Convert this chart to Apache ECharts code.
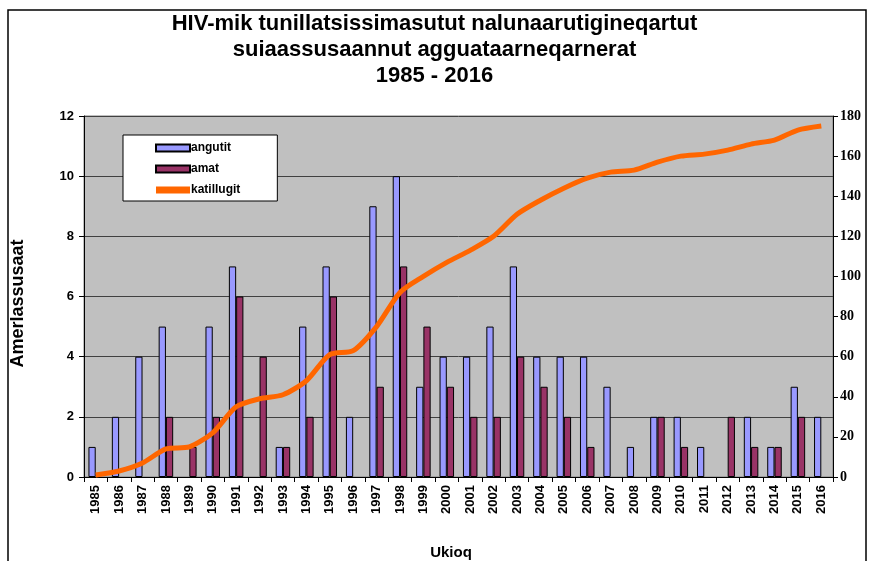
<!DOCTYPE html>
<html>
<head>
<meta charset="utf-8">
<script src="https://cdn.jsdelivr.net/npm/echarts@6/dist/echarts.min.js"></script>
<style>
  html, body { margin: 0; padding: 0; background: #fff; }
  #main { width: 869px; height: 561px; }
</style>
</head>
<body>
<div id="main"></div>
<script>
// ukiut
var years = ['1985','1986','1987','1988','1989','1990','1991','1992','1993','1994','1995','1996',
  '1997','1998','1999','2000','2001','2002','2003','2004','2005','2006','2007','2008',
  '2009','2010','2011','2012','2013','2014','2015','2016'];
var angutit = [1,2,4,5,0,5,7,0,1,5,7,2,9,10,3,4,4,5,7,4,4,4,3,1,2,2,1,0,2,1,3,2];
var amat    = [0,0,0,2,1,2,6,4,1,2,6,0,3,7,5,3,2,2,4,3,2,1,0,0,2,1,0,2,1,1,2,0];
var katillugit = [1,3,7,14,15,22,35,39,41,48,61,63,75,92,100,107,113,120,131,138,144,149,
  152,153,157,160,161,163,166,168,173,175];
var leftTicks = [0, 12, 2];    // min, max, interval
var rightTicks = [0, 180, 20];

var chart = echarts.init(document.getElementById('main'));
var sans = 'Arial, "Liberation Sans", sans-serif';

// 0 -> no bar drawn (otherwise the border leaves a flat line)
function noZero(arr) {
  return arr.map(function (v) { return v === 0 ? '-' : v; });
}

var option = {
  animation: false,
  backgroundColor: '#fff',
  title: {
    text: 'HIV-mik tunillatsissimasutut nalunaarutigineqartut\nsuiaassusaannut agguataarneqarnerat\n1985 - 2016',
    left: 'center',
    top: 6,
    textStyle: {
      fontFamily: sans,
      fontWeight: 'bold',
      fontSize: 22,
      lineHeight: 26,
      color: '#000'
    }
  },
  graphic: [{
    type: 'rect',
    shape: { x: 8, y: 10, width: 858, height: 580 },
    style: { fill: 'none', stroke: '#000', lineWidth: 1.5 },
    silent: true,
    z: -1
  }],
  legend: {
    orient: 'vertical',
    left: 123,
    top: 135,
    padding: [7, 37, 5, 32],
    backgroundColor: '#fff',
    borderColor: '#000',
    borderWidth: 1,
    borderRadius: 0,
    itemWidth: 34,
    itemHeight: 7,
    itemGap: 9,
    textStyle: { fontFamily: sans, fontWeight: 'bold', fontSize: 12, color: '#000', padding: [0, 0, 0, -4] },
    data: [
      { name: 'angutit', icon: 'rect' },
      { name: 'amat', icon: 'rect' },
      { name: 'katillugit', icon: 'rect', itemStyle: { color: '#ff6600', borderWidth: 0 } }
    ]
  },
  grid: {
    left: 84,
    right: 36,
    top: 116,
    bottom: 84,
    outerBoundsMode: 'none',
    show: true,
    backgroundColor: '#c0c0c0',
    borderColor: '#808080',
    borderWidth: 1
  },
  xAxis: {
    type: 'category',
    data: years,
    name: 'Ukioq',
    nameLocation: 'middle',
    nameGap: 68,
    nameTextStyle: { fontFamily: sans, fontWeight: 'bold', fontSize: 15, color: '#000', padding: [0, 15, 0, 0] },
    axisLine: { lineStyle: { color: '#000' } },
    axisTick: { show: true, length: 5, lineStyle: { color: '#000' } },
    axisLabel: {
      interval: 0,
      rotate: 90,
      fontFamily: sans,
      fontWeight: 'bold',
      fontSize: 13,
      color: '#000',
      margin: 8
    }
  },
  yAxis: [{
    type: 'value',
    min: leftTicks[0],
    max: leftTicks[1],
    interval: leftTicks[2],
    name: 'Amerlassusaat',
    nameLocation: 'middle',
    nameGap: 57,
    nameTextStyle: { fontFamily: sans, fontWeight: 'bold', fontSize: 18, color: '#000', padding: [0, 14, 0, 0] },
    axisLine: { show: true, lineStyle: { color: '#000' } },
    axisTick: { show: true, length: 5, lineStyle: { color: '#000' } },
    axisLabel: { fontFamily: sans, fontWeight: 'bold', fontSize: 13, color: '#000', margin: 10 },
    splitLine: { show: true, lineStyle: { color: '#404040', width: 1 } }
  }, {
    type: 'value',
    position: 'right',
    min: rightTicks[0],
    max: rightTicks[1],
    interval: rightTicks[2],
    axisLine: { show: true, lineStyle: { color: '#000' } },
    axisTick: { show: true, length: 5, lineStyle: { color: '#000' } },
    axisLabel: { fontFamily: '"Liberation Serif", "Times New Roman", serif', fontWeight: 'bold', fontSize: 14, color: '#000', margin: 7 },
    splitLine: { show: false }
  }],
  series: [{
    name: 'angutit',
    type: 'bar',
    data: noZero(angutit),
    barGap: '0%',
    barCategoryGap: '38%',
    itemStyle: { color: '#9999ff', borderColor: '#000', borderWidth: 1 }
  }, {
    name: 'amat',
    type: 'bar',
    data: noZero(amat),
    itemStyle: { color: '#993366', borderColor: '#000', borderWidth: 1 }
  }, {
    name: 'katillugit',
    type: 'line',
    yAxisIndex: 1,
    data: katillugit,
    symbol: 'none',
    smooth: 0.25,
    lineStyle: { color: '#ff6600', width: 5 },
    itemStyle: { color: '#ff6600' },
    z: 5
  }]
};
chart.setOption(option);
</script>
</body>
</html>
